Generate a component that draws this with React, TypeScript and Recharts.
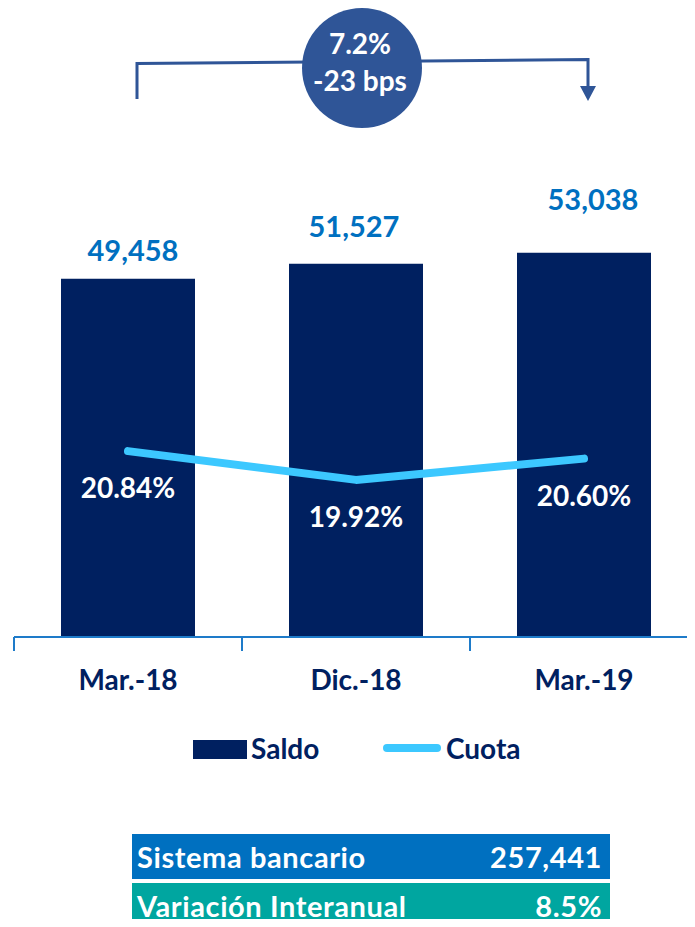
import { Bar, ComposedChart, LabelList, Legend, Line, XAxis, YAxis } from "recharts";

const CATEGORIES = ["Mar.-18", "Dic.-18", "Mar.-19"];
const SALDO = [49458, 51527, 53038];
const CUOTA = [20.84, 19.92, 20.6];
const BUBBLE_LINES = ["7.2%", "-23 bps"];
const SISTEMA_BANCARIO = 257441;
const VARIACION_INTERANUAL = 8.5;

const data = CATEGORIES.map((name, i) => ({ name, saldo: SALDO[i], cuota: CUOTA[i] }));

const NAVY = "#002060";
const BLUE = "#0070c0";
const AXIS = "#1e7bc9";
const SKY = "#3cc8ff";
const BUBBLE = "#2f5597";
const FONT = "Lato, 'Noto Sans', sans-serif";

// labels in the source are nudged by hand, so keep the nudges here
const BAR_LABEL_LIFT = [18, 27, 43];
const BAR_LABEL_DX = [5, -2, 9];

const fmt = (v: number) => v.toLocaleString("en-US");

function pick(props: any) {
  const vb = props.viewBox || {};
  return {
    x: props.x ?? vb.x ?? 0,
    y: props.y ?? vb.y ?? 0,
    width: props.width ?? vb.width ?? 0,
  };
}

function SaldoLabel(props: any) {
  const { x, y, width } = pick(props);
  const i = props.index ?? 0;
  return (
    <text
      x={x + width / 2 + BAR_LABEL_DX[i]}
      y={y - BAR_LABEL_LIFT[i]}
      textAnchor="middle"
      fill={BLUE}
      fontSize={29}
      fontWeight={700}
      fontFamily={FONT}
    >
      {fmt(Number(props.value))}
    </text>
  );
}

function CuotaLabel(props: any) {
  const { x, y } = pick(props);
  return (
    <text x={x} y={y + 47} textAnchor="middle" fill="#fff" fontSize={28} fontWeight={700} fontFamily={FONT}>
      {Number(props.value).toFixed(2)}%
    </text>
  );
}

// category tick: label plus the separator marks on the band edges
function CategoryTick(props: any) {
  const { x, y, payload, index } = props;
  const half = payload?.offset ?? 0;
  const last = index === CATEGORIES.length - 1;
  return (
    <g>
      <line x1={x - half} y1={y} x2={x - half} y2={y + 14} stroke={AXIS} strokeWidth={2} />
      {last && <line x1={x + half} y1={y} x2={x + half} y2={y + 14} stroke={AXIS} strokeWidth={2} />}
      <text x={x} y={y + 53} textAnchor="middle" fill={NAVY} fontSize={28} fontWeight={700} fontFamily={FONT}>
        {payload?.value}
      </text>
    </g>
  );
}

function LegendBox({ payload }: any) {
  const items = payload || [];
  const saldo = items.find((p: any) => p.dataKey === "saldo");
  const cuota = items.find((p: any) => p.dataKey === "cuota");
  return (
    <svg width={695} height={40} style={{ display: "block" }}>
      <rect x={193} y={12} width={54} height={19} fill={NAVY} />
      <text x={251} y={31} fill={NAVY} fontSize={28} fontWeight={700} fontFamily={FONT}>
        {saldo ? saldo.value : "Saldo"}
      </text>
      <line x1={387} y1={20} x2={437} y2={20} stroke={SKY} strokeWidth={8} strokeLinecap="round" />
      <text x={446} y={31} fill={NAVY} fontSize={28} fontWeight={700} fontFamily={FONT}>
        {cuota ? cuota.value : "Cuota"}
      </text>
    </svg>
  );
}

const rowStyle = {
  position: "absolute" as const,
  left: 132,
  width: 478,
  color: "#fff",
  fontSize: 29,
  fontWeight: 700,
  letterSpacing: 0.6,
  display: "flex",
  alignItems: "center",
  justifyContent: "space-between",
  padding: "0 8px 0 5px",
  boxSizing: "border-box" as const,
};

export default function App() {
  return (
    <div style={{ position: "relative", width: 695, height: 927, margin: -8, overflow: "hidden", background: "#fff", fontFamily: FONT }}>
      <svg width={695} height={130} style={{ position: "absolute", left: 0, top: 0 }}>
        <path d="M137 99 V63.5 L588 59.5 V88" fill="none" stroke={BUBBLE} strokeWidth={3} />
        <polygon points="580,86 596,86 588,101" fill={BUBBLE} />
        <circle cx={362} cy={68} r={60} fill={BUBBLE} />
        <text x={360} y={54} textAnchor="middle" fill="#fff" fontSize={28} fontWeight={700} fontFamily={FONT}>
          {BUBBLE_LINES[0]}
        </text>
        <text x={360} y={91} textAnchor="middle" fill="#fff" fontSize={28} fontWeight={700} fontFamily={FONT}>
          {BUBBLE_LINES[1]}
        </text>
      </svg>

      <div style={{ position: "absolute", left: 0, top: 0 }}>
        <ComposedChart width={700} height={780} data={data} margin={{ top: 130, right: 2, bottom: 80, left: 14 }}>
          <XAxis
            xAxisId="cat"
            dataKey="name"
            height={63}
            interval={0}
            axisLine={{ stroke: AXIS, strokeWidth: 2 }}
            tickLine={false}
            tickSize={0}
            tickMargin={0}
            tick={<CategoryTick />}
          />
          <YAxis yAxisId="saldo" domain={[0, 70000]} hide />
          <YAxis yAxisId="cuota" orientation="right" domain={[14.9, 31.1]} hide />
          <Legend
            layout="horizontal"
            verticalAlign="middle"
            align="center"
            content={<LegendBox />}
            wrapperStyle={{ position: "absolute", top: 728, left: 0, width: 695, height: 40 }}
          />
          <Bar xAxisId="cat" yAxisId="saldo" dataKey="saldo" name="Saldo" fill={NAVY} barSize={134} isAnimationActive={false}>
            <LabelList dataKey="saldo" content={<SaldoLabel />} />
          </Bar>
          <Line
            xAxisId="cat"
            yAxisId="cuota"
            type="linear"
            dataKey="cuota"
            name="Cuota"
            stroke={SKY}
            strokeWidth={8}
            strokeLinecap="round"
            strokeLinejoin="round"
            dot={false}
            isAnimationActive={false}
          >
            <LabelList dataKey="cuota" content={<CuotaLabel />} />
          </Line>
        </ComposedChart>
      </div>

      <div style={{ ...rowStyle, top: 834, height: 45, background: BLUE }}>
        <span>Sistema bancario</span>
        <span>{fmt(SISTEMA_BANCARIO)}</span>
      </div>
      <div style={{ ...rowStyle, top: 883, height: 44, background: "#00a6a0" }}>
        <span>Variación Interanual</span>
        <span>{VARIACION_INTERANUAL.toFixed(1)}%</span>
      </div>
    </div>
  );
}
